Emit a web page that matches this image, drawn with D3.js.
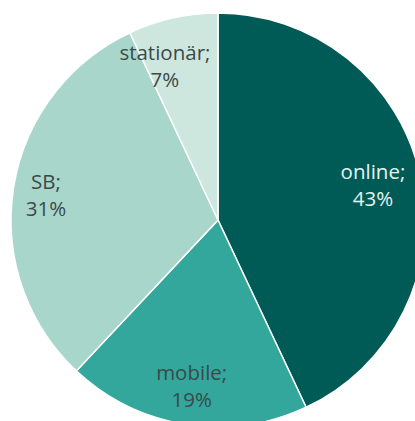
<!DOCTYPE html>
<html><head><meta charset="utf-8">
<script src="https://cdn.jsdelivr.net/npm/d3@7"></script>
<style>html,body{margin:0;padding:0;background:#fff;}svg{display:block;}</style>
</head><body>
<svg id="c" width="415" height="421"></svg>
<script>
const categories = ["online", "mobile", "SB", "stationär"];
const values = [43, 19, 31, 7];
const labels = ["43%", "19%", "31%", "7%"];
const colors = ["#005b57", "#33a79c", "#a9d6cb", "#cde6de"];
const textColors = ["#e6f2f0", "#3b4a4a", "#3b4a4a", "#3b4a4a"];

const svg = d3.select("#c");
const cx = 218, cy = 220, r = 207;
const g = svg.append("g").attr("transform", `translate(${cx},${cy})`);
const pie = d3.pie().sort(null).value(d => d)(values);
const arc = d3.arc().innerRadius(0).outerRadius(r);
g.selectAll("path").data(pie).join("path")
  .attr("d", arc).attr("fill", (d, i) => colors[i])
  .attr("stroke", "#fff").attr("stroke-width", 1.5);

const labelR = [0.767, 0.813, 0.84, 0.785];
const angleShift = [0, 0, -0.01, -0.113];
const lab = g.selectAll("text").data(pie).join("text")
  .attr("text-anchor", "middle")
  .attr("font-family", "Open Sans, sans-serif")
  .attr("font-size", 20.5)
  .attr("fill", (d, i) => textColors[i])
  .attr("transform", (d, i) => {
    const a = (d.startAngle + d.endAngle) / 2 + angleShift[i];
    const rr = labelR[i] * r;
    return `translate(${rr * Math.sin(a)},${-rr * Math.cos(a)})`;
  });
lab.append("tspan").attr("x", 0).attr("y", -6).text((d, i) => categories[i] + ";");
lab.append("tspan").attr("x", 0).attr("y", 21).text((d, i) => labels[i]);
</script>
</body></html>
